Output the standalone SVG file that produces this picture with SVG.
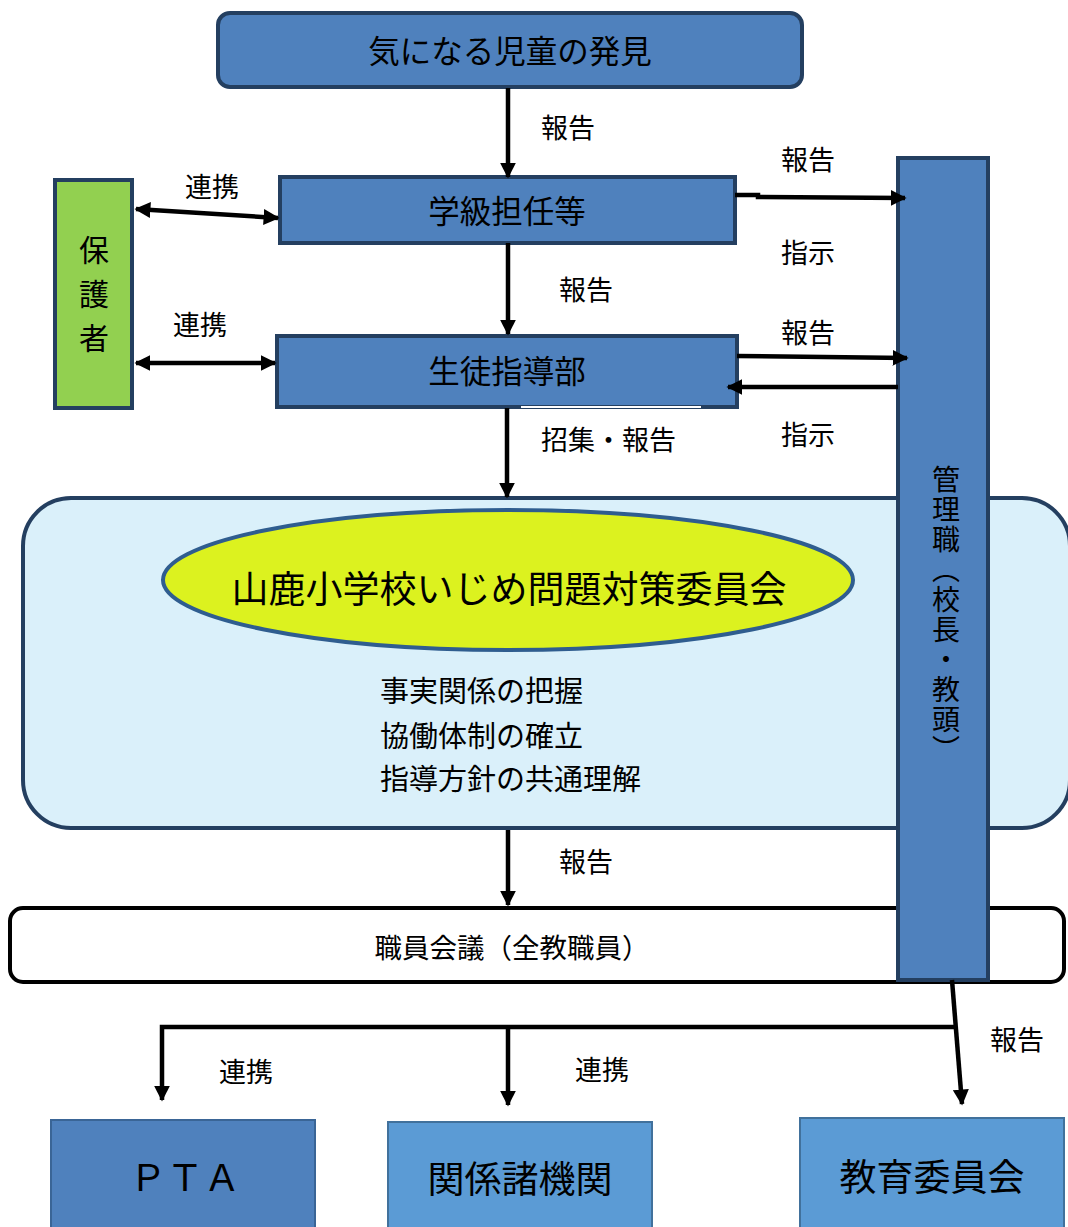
<svg xmlns="http://www.w3.org/2000/svg" width="1068" height="1227" viewBox="0 0 1068 1227">
<defs>
<style>
text{font-family:"Noto Sans CJK JP","Noto Sans",sans-serif;fill:#000;}
.lbl{font-size:27px;}
.box{fill:#4f81bd;stroke:#243f60;stroke-width:4;}
.ln{stroke:#000;stroke-width:4.5;fill:none;}
.ctr{text-anchor:middle;}
</style>
<marker id="ah" viewBox="0 0 10 10" refX="9" refY="5" markerWidth="16" markerHeight="16" markerUnits="userSpaceOnUse" orient="auto-start-reverse">
<path d="M0,0 L10,5 L0,10 Z" fill="#000"/>
</marker>
</defs>
<rect width="1068" height="1227" fill="#fff"/>

<g id="committee-area">
<rect x="23" y="498" width="1047" height="330" rx="48" fill="#daf0fa" stroke="#243f60" stroke-width="4"/>
<ellipse cx="508" cy="580" rx="345" ry="70" fill="#dcf21f" stroke="#2f5d8f" stroke-width="4"/>
<text x="509" y="603" class="ctr" font-size="37">山鹿小学校いじめ問題対策委員会</text>
<text x="380" y="702" font-size="29">事実関係の把握</text>
<text x="380" y="747" font-size="29">協働体制の確立</text>
<text x="380" y="790" font-size="29">指導方針の共通理解</text>
</g>

<g id="staff-meeting">
<rect x="10" y="908" width="1054" height="74" rx="13" fill="#fff" stroke="#000" stroke-width="4"/>
<text x="512" y="958" class="ctr" font-size="27.5">職員会議（全教職員）</text>
</g>

<g id="discovery">
<rect x="218" y="13" width="584" height="74" rx="12" class="box" stroke-width="5"/>
<text x="510" y="63" class="ctr" font-size="31.5">気になる児童の発見</text>
</g>

<g id="homeroom">
<rect x="280" y="177" width="455" height="66" class="box"/>
<text x="507" y="223" class="ctr" font-size="31.5">学級担任等</text>
</g>

<g id="guidance">
<rect x="277" y="336" width="460" height="71" class="box"/>
<line x1="521" y1="407" x2="701" y2="407" stroke="#fff" stroke-width="2"/>
<text x="507" y="383" class="ctr" font-size="31.5">生徒指導部</text>
</g>

<g id="guardians">
<rect x="55" y="180" width="77" height="228" fill="#92d050" stroke="#243f60" stroke-width="4"/>
<text x="94" y="261" class="ctr" font-size="30">保</text>
<text x="94" y="305" class="ctr" font-size="30">護</text>
<text x="94" y="349" class="ctr" font-size="30">者</text>
</g>

<g id="admin">
<rect x="898" y="158" width="90" height="822" class="box" stroke-width="5"/>
<text x="946" y="465" font-size="28" letter-spacing="2" style="writing-mode:vertical-rl;" text-anchor="start">管理職（校長・教頭）</text>
</g>

<g id="pta">
<rect x="51" y="1120" width="264" height="112" fill="#4f81bd" stroke="#3a6596" stroke-width="2"/>
<text x="185" y="1191" class="ctr" font-size="37">ＰＴＡ</text>
</g>
<g id="agencies">
<rect x="388" y="1122" width="264" height="110" fill="#5b9bd5" stroke="#41719c" stroke-width="2"/>
<text x="520" y="1193" class="ctr" font-size="37">関係諸機関</text>
</g>
<g id="board">
<rect x="800" y="1118" width="264" height="114" fill="#5b9bd5" stroke="#41719c" stroke-width="2"/>
<text x="932" y="1191" class="ctr" font-size="37">教育委員会</text>
</g>

<g id="connectors">
<line class="ln" x1="508" y1="88" x2="508" y2="177" marker-end="url(#ah)"/>
<line class="ln" x1="508" y1="243" x2="508" y2="334" marker-end="url(#ah)"/>
<line class="ln" x1="507" y1="408" x2="507" y2="497" marker-end="url(#ah)"/>
<line class="ln" x1="508" y1="830" x2="508" y2="905" marker-end="url(#ah)"/>
<line class="ln" x1="136" y1="209" x2="278" y2="218" marker-start="url(#ah)" marker-end="url(#ah)"/>
<line class="ln" x1="136" y1="363" x2="275" y2="363" marker-start="url(#ah)" marker-end="url(#ah)"/>
<polyline class="ln" points="735,195 758,195 758,197 905,198" marker-end="url(#ah)"/>
<line class="ln" x1="737" y1="356" x2="907" y2="358" marker-end="url(#ah)"/>
<line class="ln" x1="898" y1="387" x2="728" y2="387" marker-end="url(#ah)"/>
<line class="ln" x1="952" y1="980" x2="962" y2="1104" marker-end="url(#ah)"/>
<polyline class="ln" points="162,1100 162,1027 955,1027" marker-start="url(#ah)"/>
<line class="ln" x1="508" y1="1027" x2="508" y2="1105" marker-end="url(#ah)"/>
</g>

<g id="labels">
<text x="541" y="138" class="lbl">報告</text>
<text x="781" y="170" class="lbl">報告</text>
<text x="781" y="263" class="lbl">指示</text>
<text x="185" y="197" class="lbl">連携</text>
<text x="559" y="300" class="lbl">報告</text>
<text x="173" y="335" class="lbl">連携</text>
<text x="781" y="343" class="lbl">報告</text>
<text x="781" y="445" class="lbl">指示</text>
<text x="541" y="450" class="lbl">招集・報告</text>
<text x="559" y="872" class="lbl">報告</text>
<text x="990" y="1050" class="lbl">報告</text>
<text x="219" y="1082" class="lbl">連携</text>
<text x="575" y="1080" class="lbl">連携</text>
</g>
</svg>
